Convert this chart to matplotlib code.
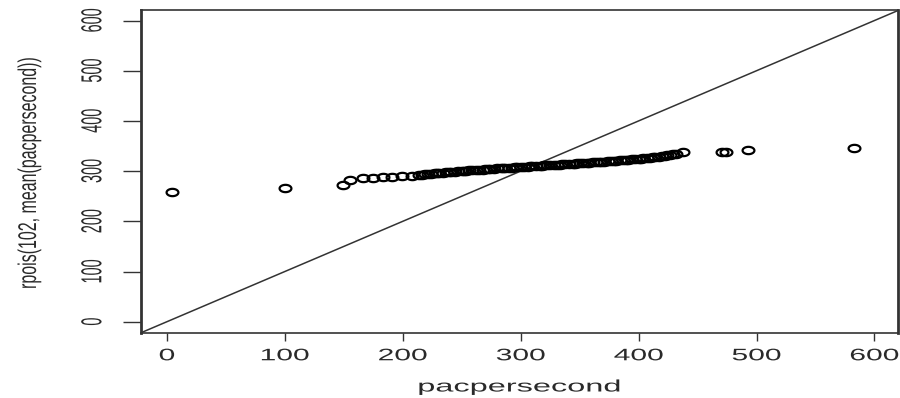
import numpy as np
import matplotlib
matplotlib.use("Agg")
import matplotlib.pyplot as plt
from matplotlib import patheffects
from matplotlib.transforms import Affine2D
from matplotlib.path import Path

# sorted pacpersecond values (x) and sorted rpois(102, mean(pacpersecond)) (y)
pacpersecond = [
    4, 100, 149, 155, 166, 175, 183, 191, 199, 208,
    214, 216, 219, 221, 224, 227, 229, 231, 234, 237,
    239, 241, 244, 247, 250, 252, 254, 256, 259, 262,
    265, 268, 270, 272, 274, 277, 280, 283, 285, 287,
    290, 293, 295, 297, 300, 303, 306, 308, 310, 313,
    316, 318, 320, 322, 325, 328, 331, 333, 335, 338,
    341, 344, 346, 348, 350, 353, 356, 358, 361, 364,
    366, 368, 371, 374, 377, 379, 381, 384, 387, 389,
    391, 394, 397, 400, 402, 404, 407, 410, 412, 414,
    417, 420, 422, 424, 427, 429, 432,
    438, 471, 474, 493, 583,
]
rpois_sample = [
    259, 267, 273, 283, 286, 287, 288, 289, 290, 291,
    292, 293, 294, 294, 295, 296, 296, 297, 297, 298,
    298, 299, 299, 300, 300, 301, 301, 302, 302, 303,
    303, 303, 304, 304, 305, 305, 306, 306, 306, 307,
    307, 307, 308, 308, 309, 309, 309, 310, 310, 310,
    311, 311, 312, 312, 312, 313, 313, 313, 314, 314,
    315, 315, 315, 316, 316, 316, 317, 317, 318, 318,
    319, 319, 319, 320, 320, 321, 321, 322, 322, 323,
    323, 324, 324, 325, 325, 326, 326, 327, 328, 328,
    329, 330, 331, 332, 333, 334, 335,
    338, 339, 339, 342, 347,
]
tick_values = [0, 100, 200, 300, 400, 500, 600]
tick_labels = ["0", "100", "200", "300", "400", "500", "600"]
x_label = "pacpersecond"
y_label = "rpois(102, mean(pacpersecond))"


class Stretch(patheffects.AbstractPathEffect):
    """Stretch rendered glyphs about their own centre (horizontal display stretch)."""
    def __init__(self, sx=1.0, sy=1.0):
        super().__init__()
        self.sx = sx
        self.sy = sy

    def draw_path(self, renderer, gc, tpath, affine, rgbFace=None):
        ext = tpath.get_extents(affine)
        cx = (ext.x0 + ext.x1) / 2
        cy = (ext.y0 + ext.y1) / 2
        t = affine + Affine2D().translate(-cx, -cy).scale(self.sx, self.sy).translate(cx, cy)
        renderer.draw_path(gc, tpath, t, rgbFace)


W, H = 900, 398
fig = plt.figure(figsize=(W / 100, H / 100), dpi=100)
left, right, top, bottom = 141, 898, 9.5, 333
ax = fig.add_axes([left / W, 1 - bottom / H, (right - left) / W, (bottom - top) / H])

txt_color = "#2a2a2a"
font = ["Liberation Sans", "DejaVu Sans"]

# ellipse marker (stretched circle like the reference)
theta = np.linspace(0, 2 * np.pi, 60)
ell = Path(np.column_stack([np.cos(theta), 0.62 * np.sin(theta)]), closed=True)

ax.axline((0, 0), (1, 1), color="#333333", lw=1.1, zorder=1)
ax.plot(pacpersecond, rpois_sample, linestyle="none", marker=ell, markersize=8.5,
        markerfacecolor="none", markeredgecolor="black", markeredgewidth=1.6, zorder=2)

ax.set_xlim(-22, 620)
ax.set_ylim(-22.5, 622)

for side in ["left", "right"]:
    ax.spines[side].set_linewidth(2.0)
for side in ["top", "bottom"]:
    ax.spines[side].set_linewidth(1.2)
for s in ax.spines.values():
    s.set_color("#333333")

ax.set_xticks(tick_values)
ax.set_xticklabels(tick_labels)
ax.set_yticks(tick_values)
ax.set_yticklabels(tick_labels)

ax.tick_params(axis="x", direction="out", length=6, width=1.0, color="#333333",
               pad=5, labelsize=12, labelcolor=txt_color)
ax.tick_params(axis="y", direction="out", length=13, width=1.0, color="#333333",
               pad=17, labelsize=10.4, labelcolor=txt_color, labelrotation=90)

for lab in ax.get_xticklabels():
    lab.set_fontfamily(font)
    lab.set_path_effects([Stretch(1.8)])
for lab in ax.get_yticklabels():
    lab.set_fontfamily(font)
    lab.set_va("center")
    lab.set_path_effects([Stretch(2.0)])

fig.text((left + right) / 2 / W - 0.0, 1 - 387 / H, x_label, ha="center", va="center",
         fontsize=12, color=txt_color, family=font, path_effects=[Stretch(1.95)])
fig.text(29 / W, 1 - 173 / H, y_label, ha="center", va="center", rotation=90,
         fontsize=11.5, color=txt_color, family=font, path_effects=[Stretch(1.6)])

fig.savefig("out.png", dpi=100)
